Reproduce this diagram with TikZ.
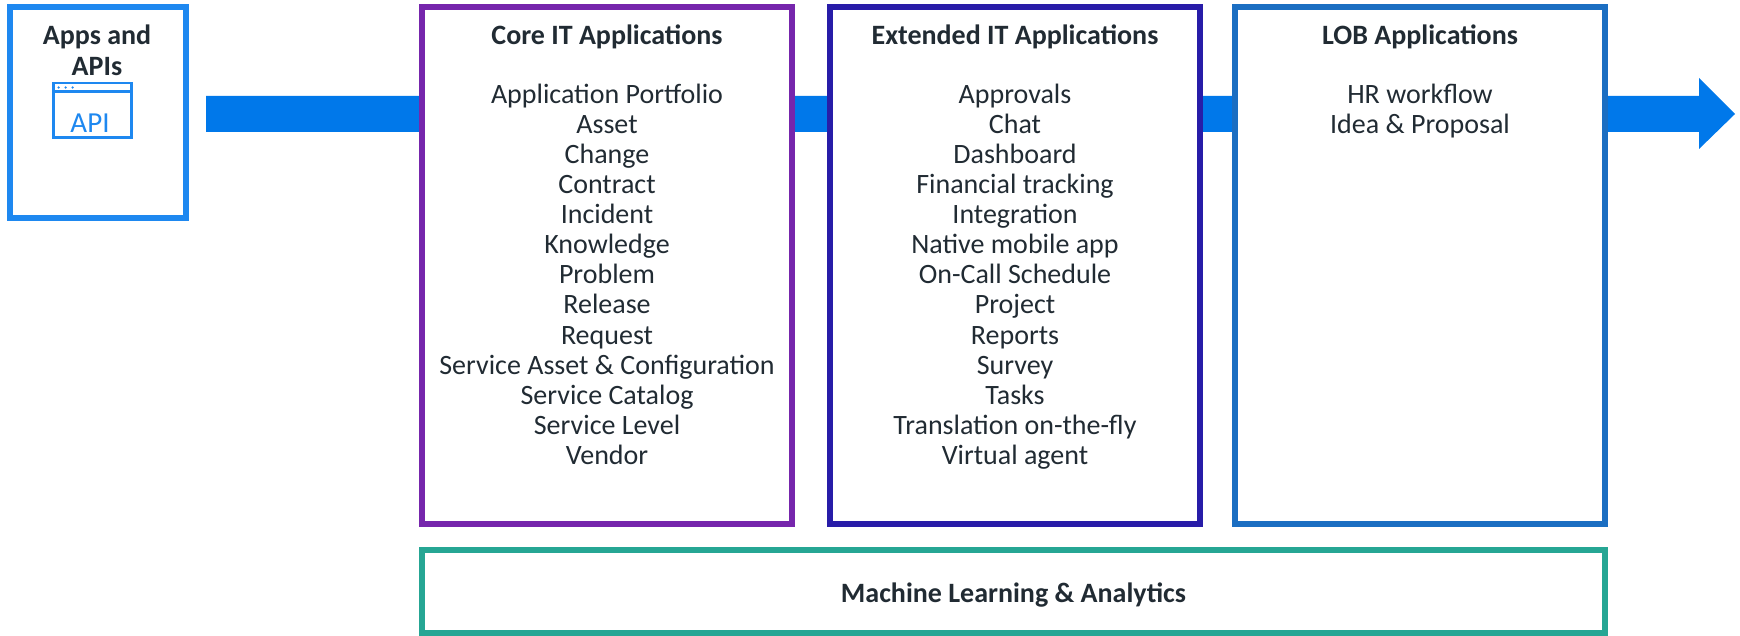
\documentclass[tikz,border=0pt]{standalone}
\usepackage{fontspec}
\setmainfont{Carlito}
\usepackage{tikz}
\usetikzlibrary{calc}
\definecolor{flowblue}{RGB}{0,120,234}
\definecolor{apiblue}{RGB}{30,136,240}
\definecolor{corepurple}{RGB}{118,38,172}
\definecolor{extindigo}{RGB}{40,28,168}
\definecolor{lobblue}{RGB}{27,110,194}
\definecolor{mlteal}{RGB}{38,166,148}
\definecolor{inkgray}{RGB}{33,43,51}
\tikzset{
    appbox/.style={draw, fill=white, line width=6pt, rectangle, inner sep=0pt},
    boxtitle/.style={anchor=base, text=inkgray, font=\fontsize{28}{30}\selectfont\bfseries},
    appitem/.style={anchor=base, text=inkgray, font=\fontsize{28}{30}\selectfont},
    flow/.style={fill=flowblue},
}

\begin{document}
\begin{tikzpicture}[x=1pt, y=1pt]
\useasboundingbox (0,0) rectangle (1740,-636);
% flow arrow, under the boxes
\coordinate (flowstart) at (206,-114);
\coordinate (flowbase) at (1699,-114);
\coordinate (flowtip) at (1735,-114);
\fill[flow] ($(flowstart)+(0,18)$) -- ($(flowbase)+(0,18)$) -- ($(flowbase)+(0,36)$) -- (flowtip)
    -- ($(flowbase)+(0,-35)$) -- ($(flowbase)+(0,-18)$) -- ($(flowstart)+(0,-18)$) -- cycle;

\node[appbox, draw=apiblue, minimum width=175.5pt, minimum height=211.5pt] (apps) at (97.75,-112.75) {};
\node[boxtitle] (appstitle) at (97,-45) {Apps and};
\node[boxtitle] (appstitleb) at (97,-76) {APIs};
\node[draw=apiblue, line width=2.5pt, minimum width=78pt, minimum height=54.5pt, inner sep=0pt] (apiicon) at (92.4,-110.3) {};
\draw[apiblue, line width=2.5pt] ($(apiicon.north west)+(0,-9.7)$) -- ($(apiicon.north east)+(0,-9.7)$);
\foreach \d in {6.5,13.5,20.5}
    \fill[apiblue] ($(apiicon.north west)+(\d,-5.7)$) circle (1.3pt);
\node[anchor=base, text=apiblue, font=\fontsize{29}{30}\selectfont] (apilabel) at (90,-133) {API};

\node[appbox, draw=corepurple, minimum width=370pt, minimum height=517pt] (core) at (607,-265.5) {};
\node[boxtitle] (coretitle) at (607,-45) {Core IT Applications};
\foreach \entry [count=\i] in {Application Portfolio, Asset, Change, Contract, Incident, Knowledge,
    Problem, Release, Request, Service Asset \& Configuration, Service Catalog, Service Level, Vendor}
    \node[appitem] (core\i) at (607,{-74-30*\i}) {\entry};

\node[appbox, draw=extindigo, minimum width=370pt, minimum height=517pt] (ext) at (1015,-265.5) {};
\node[boxtitle] (exttitle) at (1015,-45) {Extended IT Applications};
\foreach \entry [count=\i] in {Approvals, Chat, Dashboard, Financial tracking, Integration, Native mobile app,
    On-Call Schedule, Project, Reports, Survey, Tasks, Translation on-the-fly, Virtual agent}
    \node[appitem] (ext\i) at (1015,{-74-30*\i}) {\entry};

\node[appbox, draw=lobblue, minimum width=370pt, minimum height=517pt] (lob) at (1420,-265.5) {};
\node[boxtitle] (lobtitle) at (1420,-45) {LOB Applications};
\foreach \entry [count=\i] in {HR workflow, Idea \& Proposal}
    \node[appitem] (lob\i) at (1420,{-74-30*\i}) {\entry};

\node[appbox, draw=mlteal, minimum width=1183pt, minimum height=83pt] (ml) at (1013.5,-591.5) {};
\node[boxtitle] (mltitle) at (1013.5,-602) {Machine Learning \& Analytics};
\end{tikzpicture}
\end{document}
